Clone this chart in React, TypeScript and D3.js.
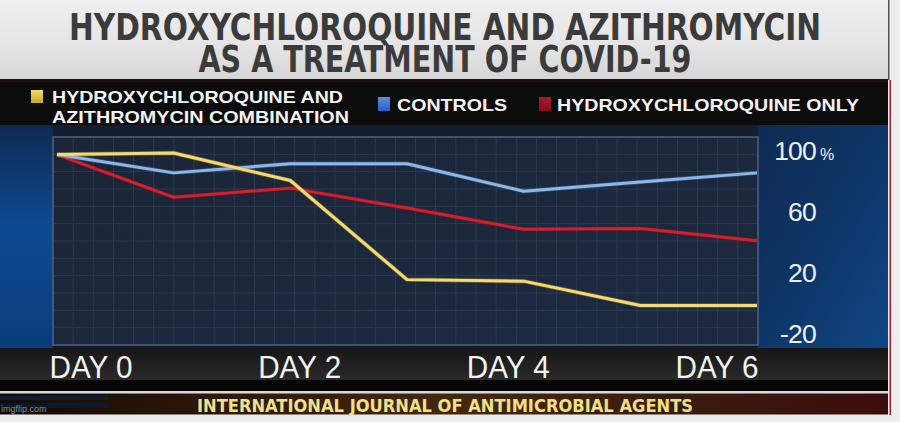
import React from "react";
import * as d3 from "d3";

const days = [0, 1, 2, 3, 4, 5, 6];
const comboValues = [97, 98, 80, 15, 14, -2, -2];
const controlValues = [97, 85, 91, 91, 73, 79, 85];
const hcqOnlyValues = [97, 69, 75, 62, 48, 48.5, 40.5];
const yTicks = [100, 60, 20, -20];
const dayLabels = ["DAY 0", "DAY 2", "DAY 4", "DAY 6"];
const titleLines = ["HYDROXYCHLOROQUINE AND AZITHROMYCIN", "AS A TREATMENT OF COVID-19"];
const footerText = "INTERNATIONAL JOURNAL OF ANTIMICROBIAL AGENTS";

const W = 900;
const H = 422;
const frame = { left: 53, right: 758, top: 137, bottom: 345 };

const condensed = "'Liberation Sans Narrow', 'DejaVu Sans Condensed', 'Arial Narrow', sans-serif";
const sans = "'Liberation Sans', Arial, Helvetica, sans-serif";

export default function App() {
  const x = d3.scaleLinear().domain([0, 6]).range([57, 757]);
  const y = d3.scaleLinear().domain([-20, 100]).range([333, 150]);
  const labelX = d3.scalePoint<string>().domain(dayLabels).range([91, 717]);

  const line = d3
    .line<number>()
    .x((_, i) => x(days[i]))
    .y((d) => y(d));

  const cols = 35;
  const rows = 12;
  const colStep = (frame.right - frame.left) / cols;
  const rowStep = (frame.bottom - frame.top) / rows;

  const series = [
    { name: "red", values: hcqOnlyValues, color: "#d21f2e", glow: "#8a1020" },
    { name: "blue", values: controlValues, color: "#8cb8e6", glow: "#4a78a8" },
    { name: "yellow", values: comboValues, color: "#f4da72", glow: "#b8962c" },
  ];

  return (
    <svg
      width={W}
      height={H}
      viewBox={`0 0 ${W} ${H}`}
      style={{ position: "absolute", left: 0, top: 0, display: "block" }}
    >
      <defs>
        <linearGradient id="titleBg" x1="0" y1="0" x2="0" y2="1">
          <stop offset="0" stopColor="#efefef" />
          <stop offset="0.6" stopColor="#e4e4e4" />
          <stop offset="1" stopColor="#d6d6d6" />
        </linearGradient>
        <linearGradient id="leftBlue" x1="0" y1="0" x2="0" y2="1">
          <stop offset="0" stopColor="#0d2a52" />
          <stop offset="0.45" stopColor="#0d4a92" />
          <stop offset="1" stopColor="#0b3c7a" />
        </linearGradient>
        <linearGradient id="rightBlue" x1="0" y1="0" x2="1" y2="1">
          <stop offset="0" stopColor="#0e2a52" />
          <stop offset="0.5" stopColor="#0e3668" />
          <stop offset="1" stopColor="#104684" />
        </linearGradient>
        <linearGradient id="plotBg" x1="0" y1="0" x2="1" y2="1">
          <stop offset="0" stopColor="#1b2537" />
          <stop offset="1" stopColor="#1c2a40" />
        </linearGradient>
        <linearGradient id="dayBand" x1="0" y1="0" x2="0" y2="1">
          <stop offset="0" stopColor="#161616" />
          <stop offset="1" stopColor="#2a2a2a" />
        </linearGradient>
        <linearGradient id="footerBg" x1="0" y1="0" x2="1" y2="0">
          <stop offset="0" stopColor="#120905" />
          <stop offset="0.25" stopColor="#2e1808" />
          <stop offset="0.5" stopColor="#45270e" />
          <stop offset="0.8" stopColor="#3a1a0c" />
          <stop offset="1" stopColor="#3c0c0c" />
        </linearGradient>
        <linearGradient id="swYellow" x1="0" y1="0" x2="0" y2="1">
          <stop offset="0" stopColor="#f2dc6a" />
          <stop offset="1" stopColor="#c8a628" />
        </linearGradient>
        <linearGradient id="swBlue" x1="0" y1="0" x2="0" y2="1">
          <stop offset="0" stopColor="#5a8ee8" />
          <stop offset="1" stopColor="#2a5cc0" />
        </linearGradient>
        <linearGradient id="swRed" x1="0" y1="0" x2="0" y2="1">
          <stop offset="0" stopColor="#b01a2a" />
          <stop offset="1" stopColor="#80101c" />
        </linearGradient>
      </defs>

      {/* page background */}
      <rect x={0} y={0} width={W} height={H} fill="#ededed" />

      {/* title band */}
      <rect x={0} y={0} width={889} height={79} fill="url(#titleBg)" />
      {titleLines.map((t, i) => (
        <text
          key={t}
          x={445}
          y={i === 0 ? 40 : 72}
          textAnchor="middle"
          fontFamily={condensed}
          fontWeight="bold"
          fontSize={38}
          fill="#3b3b3b"
          textLength={i === 0 ? 752 : 493}
          lengthAdjust="spacingAndGlyphs"
        >
          {t}
        </text>
      ))}

      {/* legend band */}
      <rect x={0} y={79} width={889} height={46} fill="#0d0c0c" />
      <rect x={0} y={79} width={889} height={3} fill="#2a1210" opacity={0.8} />

      {/* chart background pieces */}
      <rect x={0} y={125} width={889} height={223} fill="#15203a" />
      <rect x={0} y={125} width={frame.left} height={223} fill="url(#leftBlue)" />
      <rect x={frame.right} y={125} width={889 - frame.right} height={223} fill="url(#rightBlue)" />
      <rect x={frame.left} y={125} width={frame.right - frame.left} height={frame.top - 125} fill="#151e30" />
      <rect
        x={frame.left}
        y={frame.top}
        width={frame.right - frame.left}
        height={frame.bottom - frame.top}
        fill="url(#plotBg)"
      />
      <rect x={frame.left} y={frame.bottom} width={frame.right - frame.left} height={348 - frame.bottom} fill="#101a2c" />

      {/* grid */}
      <g stroke="#34445c" strokeWidth={1} opacity={0.7}>
        {d3.range(1, cols).map((i) => (
          <line
            key={"v" + i}
            x1={frame.left + i * colStep}
            x2={frame.left + i * colStep}
            y1={frame.top}
            y2={frame.bottom}
          />
        ))}
        {d3.range(1, rows).map((i) => (
          <line
            key={"h" + i}
            x1={frame.left}
            x2={frame.right}
            y1={frame.top + i * rowStep}
            y2={frame.top + i * rowStep}
          />
        ))}
      </g>
      <rect
        x={frame.left}
        y={frame.top}
        width={frame.right - frame.left}
        height={frame.bottom - frame.top}
        fill="none"
        stroke="#4e6282"
        strokeWidth={1.5}
      />

      {/* data lines */}
      {series.map((s) => (
        <g key={s.name}>
          <path d={line(s.values) || ""} fill="none" stroke={s.glow} strokeWidth={4.5} strokeOpacity={0.45} strokeLinejoin="round" />
          <path d={line(s.values) || ""} fill="none" stroke={s.color} strokeWidth={3} strokeLinejoin="round" />
        </g>
      ))}

      {/* y tick labels */}
      {yTicks.map((v) => (
        <text
          key={v}
          x={816}
          y={y(v)}
          dy="0.36em"
          textAnchor="end"
          fontFamily={sans}
          fontSize={26.5}
          fill="#eef2f8"
          letterSpacing={-0.8}
        >
          {v}
        </text>
      ))}
      <text x={820} y={y(100)} dy="0.62em" fontFamily={sans} fontSize={16} fill="#eef2f8">
        %
      </text>

      {/* day band */}
      <rect x={0} y={348} width={889} height={32} fill="url(#dayBand)" />
      <rect x={0} y={380} width={889} height={11} fill="#070707" />
      {dayLabels.map((d) => (
        <text
          key={d}
          x={labelX(d)}
          y={378}
          textAnchor="middle"
          fontFamily={sans}
          fontSize={31}
          fill="#f2f2f2"
          textLength={83}
          lengthAdjust="spacingAndGlyphs"
        >
          {d}
        </text>
      ))}

      {/* white separator and footer */}
      <rect x={0} y={391} width={889} height={2.5} fill="#d8d8d8" />
      <rect x={0} y={393.5} width={889} height={21} fill="url(#footerBg)" />
      <rect x={0} y={396} width={108} height={4} fill="#0d1f3a" opacity={0.9} />
      <rect x={0} y={403} width={108} height={5} fill="#0a1830" opacity={0.9} />
      <text x={1} y={412} fontFamily={sans} fontSize={9} fill="#9aa6b4" opacity={0.85}>
        imgflip.com
      </text>
      <text
        x={445}
        y={412}
        textAnchor="middle"
        fontFamily={condensed}
        fontWeight="bold"
        fontSize={17.5}
        fill="#efe08c"
        textLength={496}
        lengthAdjust="spacingAndGlyphs"
      >
        {footerText}
      </text>

      {/* legend */}
      <rect x={31} y={90} width={12} height={13} fill="url(#swYellow)" />
      <text x={52} y={102.5} fontFamily={sans} fontWeight="bold" fontSize={17} fill="#f4f4f4" textLength={291} lengthAdjust="spacingAndGlyphs">
        HYDROXYCHLOROQUINE AND
      </text>
      <text x={52} y={122.5} fontFamily={sans} fontWeight="bold" fontSize={17} fill="#f4f4f4" textLength={297} lengthAdjust="spacingAndGlyphs">
        AZITHROMYCIN COMBINATION
      </text>
      <rect x={378} y={97} width={12} height={14} fill="url(#swBlue)" />
      <text x={397} y={110.5} fontFamily={sans} fontWeight="bold" fontSize={17} fill="#f4f4f4" textLength={110} lengthAdjust="spacingAndGlyphs">
        CONTROLS
      </text>
      <rect x={539} y={97} width={12} height={14} fill="url(#swRed)" />
      <text x={557} y={110.5} fontFamily={sans} fontWeight="bold" fontSize={17} fill="#f4f4f4" textLength={302} lengthAdjust="spacingAndGlyphs">
        HYDROXYCHLOROQUINE ONLY
      </text>

      {/* right edge border */}
      <rect x={888} y={0} width={1.5} height={80} fill="#555" />
      <rect x={888} y={80} width={1.5} height={335} fill="#e8e8e8" />
      <rect x={889.5} y={80} width={1.5} height={335} fill="#a02030" />
    </svg>
  );
}
